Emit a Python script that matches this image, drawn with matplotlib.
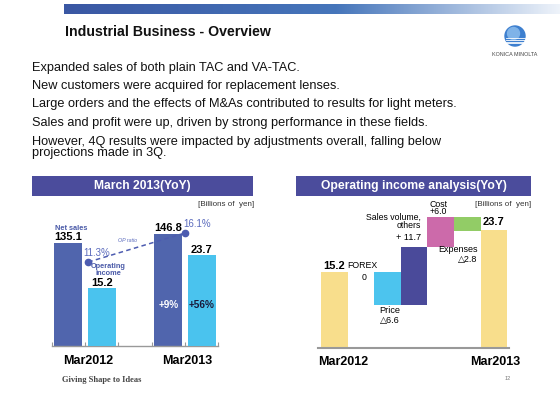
import matplotlib.pyplot as plt
import numpy as np
from matplotlib.patches import Rectangle, Circle
from matplotlib.colors import LinearSegmentedColormap

plt.rcParams['font.family'] = ['Liberation Sans', 'DejaVu Sans']

W, H = 560, 396  # canvas size in pixels


def P(x, y):
    # pixel position (from top-left) -> figure fraction
    return x / W, 1 - y / H


# ---- data ----
title = 'Industrial Business - Overview'
bullets = [
    'Expanded sales of both plain TAC and VA-TAC.',
    'New customers were acquired for replacement lenses.',
    'Large orders and the effects of M&As contributed to results for light meters.',
    'Sales and profit were up, driven by strong performance in these fields.',
    'However, 4Q results were impacted by adjustments overall, falling below\nprojections made in 3Q.',
]
years = ['Mar2012', 'Mar2013']
net_sales = [135.1, 146.8]
op_income = [15.2, 23.7]
op_ratio = [11.3, 16.1]
growth = ['+9%', '+56%']

wf_labels = ['Mar2012', 'FOREX', 'Price', 'Sales volume,\nothers', 'Cost', 'Expenses', 'Mar2013']
wf_start = 15.2
wf_delta = [0.0, -6.6, 11.7, 6.0, -2.8]
wf_end = 23.7

blue_hdr = '#4b4c9c'
c_net = '#5065ad'
c_oi = '#4ac3ee'
c_txtblue = '#4a5aa8'

fig = plt.figure(figsize=(5.6, 3.96), dpi=100)

# top gradient strip
ax_g = fig.add_axes([64 / W, 1 - 14 / H, (W - 64) / W, 10 / H])
cm = LinearSegmentedColormap.from_list('strip', [(0, '#3a57a3'), (0.55, '#4676bb'), (1, '#eef3fa')])
ax_g.imshow(np.linspace(0, 1, 256)[None, :], aspect='auto', cmap=cm)
ax_g.axis('off')

# logo
ax_l = fig.add_axes([504 / W, 1 - 47 / H, 22 / W, 22 / H])
ax_l.add_patch(Circle((0, 0), 1, color='#3d7fcf'))
ax_l.add_patch(Circle((-0.15, 0.25), 0.6, color='#7fb3e8'))
for yy in [-0.15, -0.35, -0.55, -0.72]:
    ax_l.plot([-0.95, 0.95], [yy, yy], color='white', lw=0.6)
ax_l.set_xlim(-1.1, 1.1)
ax_l.set_ylim(-1.1, 1.1)
ax_l.axis('off')
fig.text(*P(515, 54), 'KONICA MINOLTA', fontsize=3.9, ha='center', va='center', color='#444')

fig.text(*P(65, 32), title, fontsize=10.2, fontweight='bold', ha='left', va='center', color='#111')

ys = [68, 86, 104, 123, 147.5]
for y, line in zip(ys, bullets):
    fig.text(*P(32, y), line, fontsize=9.2, ha='left', va='center', color='#111', linespacing=0.9)

# section headers
for x0, x1, txt in [(32, 253, 'March 2013(YoY)'), (296, 531, 'Operating income analysis(YoY)')]:
    fig.add_artist(Rectangle(P(x0, 196), (x1 - x0) / W, 20 / H, transform=fig.transFigure,
                             facecolor=blue_hdr, edgecolor='none'))
    fig.text(*P((x0 + x1) / 2, 186), txt, fontsize=8.7, fontweight='bold', color='white',
             ha='center', va='center')
fig.text(*P(254, 204), '[Billions of  yen]', fontsize=5.8, ha='right', va='center', color='#333')
fig.text(*P(531, 204), '[Billions of  yen]', fontsize=5.8, ha='right', va='center', color='#333')

# ---- left chart: net sales / operating income ----
ax1 = fig.add_axes([52 / W, 1 - 346 / H, 166 / W, 136 / H])
ax2 = ax1.twinx()
ax3 = ax1.twinx()
x = np.arange(len(years))
off, bw = 0.17, 0.28
ax1.bar(x - off, net_sales, bw, color=c_net)
ax2.bar(x + off, op_income, bw, color=c_oi)
ax1.set_ylim(0, 136 / 0.766)
ax2.set_ylim(0, 136 / 3.84)
ax3.set_ylim(-2.6, -2.6 + 136 / 6.04)
for a in (ax1, ax2, ax3):
    a.set_xlim(-1 / 3, 4 / 3)
    a.set_yticks([])
    for s in a.spines.values():
        s.set_visible(False)
ax1.spines['bottom'].set_visible(True)
ax1.spines['bottom'].set_color('#999999')
ax1.spines['bottom'].set_linewidth(1.0)
ax1.set_xticks(np.linspace(-1 / 3, 4 / 3, 6))
ax1.set_xticklabels([])
ax1.tick_params(axis='x', direction='in', length=3, color='#999999', width=0.8)

for xi, v in zip(x, net_sales):
    ax3.annotate(f'{v:.1f}', (xi - off, v), xycoords=('data', ax1.transData), xytext=(0, 2),
                 textcoords='offset points', ha='center', va='baseline', fontsize=8, fontweight='bold')
for xi, v in zip(x, op_income):
    ax3.annotate(f'{v:.1f}', (xi + off, v), xycoords=('data', ax2.transData), xytext=(0, 1.5),
                 textcoords='offset points', ha='center', va='baseline', fontsize=8, fontweight='bold')

rx = [0.03, 1.0]
ax3.plot(rx, op_ratio, '--', color='#4d5cb0', lw=1.1, dashes=(3, 2.2))
ax3.plot(rx, op_ratio, 'o', color='#4d5cb0', ms=4.5)
ax3.annotate(f'{op_ratio[0]}%', (rx[0], op_ratio[0]), xytext=(-3.5, 6.5), textcoords='offset points',
             ha='left', va='center', fontsize=7, color='#5b6bbd')
ax3.annotate(f'{op_ratio[1]}%', (rx[1], op_ratio[1]), xytext=(-1, 6.5), textcoords='offset points',
             ha='left', va='center', fontsize=7, color='#5b6bbd')
fig.text(*P(128, 241), 'OP ratio', fontsize=3.8, style='italic', ha='center', va='center', color='#5b6bbd')
fig.text(*P(55, 228), 'Net sales', fontsize=5.3, fontweight='bold', ha='left', va='center', color=c_txtblue)
fig.text(*P(108, 270), 'Operating\nincome', fontsize=5.3, fontweight='bold', ha='center', va='center',
         color=c_txtblue, linespacing=0.85)
fig.text(*P(169, 305.5), growth[0], ha='center', va='center', fontsize=7.2, fontweight='bold', color='white')
fig.text(*P(202, 305.5), growth[1], ha='center', va='center', fontsize=7.2, fontweight='bold', color='#1a1a3a')
fig.text(*P(88, 361), years[0], fontsize=9, fontweight='bold', ha='center', va='center')
fig.text(*P(187, 361), years[1], fontsize=9, fontweight='bold', ha='center', va='center')

# ---- right chart: waterfall ----
ax4 = fig.add_axes([318 / W, 1 - 348 / H, 191 / W, 148 / H])
levels = wf_start + np.concatenate([[0], np.cumsum(wf_delta)])
bottoms = [0] + [min(a, b) for a, b in zip(levels[:-1], levels[1:])] + [0]
heights = [wf_start] + [abs(d) for d in wf_delta] + [wf_end]
colors = ['#f8de8c', 'none', '#4cc4ee', '#4a4a9a', '#cc6aaa', '#92cc66', '#f8de8c']
xs = np.arange(len(wf_labels))
ax4.bar(xs, heights, 1.0, bottom=bottoms, color=colors)
ax4.set_xlim(-0.62, 6.57)
ax4.set_ylim(0, 148 / 5.0)
ax4.set_xticks([])
ax4.set_yticks([])
for k, s in ax4.spines.items():
    s.set_visible(k == 'bottom')
ax4.spines['bottom'].set_color('#999999')
ax4.spines['bottom'].set_linewidth(1.5)

ax4.annotate(f'{wf_start:.1f}', (0, wf_start), xytext=(0, 2), textcoords='offset points',
             ha='center', va='baseline', fontsize=8, fontweight='bold')
ax4.annotate(f'{wf_end:.1f}', (6, wf_end), xytext=(0, 3), textcoords='offset points',
             ha='center', va='baseline', fontsize=8, fontweight='bold')

fs = 6.3
ax4.text(0.47, 16.4, 'FOREX', ha='left', va='center', fontsize=fs)
ax4.text(1.11, 14.0, f'{wf_delta[0]:g}', ha='center', va='center', fontsize=fs)
ax4.text(2.09, 6.5, 'Price\n△%.1f' % abs(wf_delta[1]), ha='center', va='center', fontsize=6.6, linespacing=1.05)
ax4.text(3.25, 25.3, wf_labels[3], ha='right', va='center', fontsize=fs, linespacing=0.85)
ax4.text(3.25, 22.2, '+ %.1f' % wf_delta[2], ha='right', va='center', fontsize=6.6)
ax4.text(3.9, 28.0, 'Cost\n+%.1f' % wf_delta[3], ha='center', va='center', fontsize=fs, linespacing=0.85)
ax4.text(5.39, 18.7, 'Expenses\n△%.1f' % abs(wf_delta[4]), ha='right', va='center', fontsize=6.5,
         linespacing=1.05)
fig.text(*P(343, 362), years[0], fontsize=9, fontweight='bold', ha='center', va='center')
fig.text(*P(495, 362), years[1], fontsize=9, fontweight='bold', ha='center', va='center')

# footer
fig.text(*P(62, 379.5), 'Giving Shape to Ideas', fontsize=6.1, family='Liberation Serif',
         fontweight='bold', ha='left', va='center', color='#444')
fig.text(*P(508, 379), '12', fontsize=4, ha='center', va='center', color='#777')

fig.savefig('out.png', dpi=100)
